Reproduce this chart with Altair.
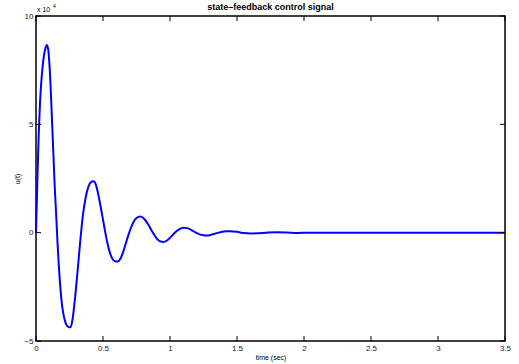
import altair as alt
import pandas as pd

# control effort u(t), in units of 1e4
t_sec = [0, 0.01, 0.02, 0.03, 0.04, 0.05, 0.06, 0.07, 0.08, 0.09, 0.10,
         0.11, 0.12, 0.13, 0.14, 0.15, 0.16, 0.17, 0.18, 0.19, 0.20, 0.22,
         0.24, 0.255, 0.27, 0.29, 0.31, 0.33, 0.35, 0.37, 0.39, 0.41, 0.43,
         0.45, 0.47, 0.49, 0.51, 0.53, 0.55, 0.57, 0.59, 0.61, 0.63, 0.65,
         0.67, 0.69, 0.71, 0.73, 0.75, 0.78, 0.81, 0.84, 0.87, 0.90, 0.93,
         0.95, 0.98, 1.01, 1.04, 1.07, 1.10, 1.13, 1.16, 1.19, 1.22, 1.25,
         1.28, 1.31, 1.35, 1.39, 1.42, 1.45, 1.50, 1.55, 1.60, 1.65, 1.72,
         1.80, 1.87, 1.95, 2.05, 2.5, 3.0, 3.5]
u_1e4 = [0, 2.4, 4.5, 6.0, 7.0, 7.7, 8.2, 8.5, 8.66, 8.5, 7.8,
         6.6, 5.1, 3.6, 2.1, 0.9, -0.4, -1.5, -2.4, -3.1, -3.6, -4.15,
         -4.35, -4.37, -4.1, -3.1, -1.8, -0.4, 0.8, 1.6, 2.1, 2.33, 2.37,
         2.15, 1.6, 0.95, 0.25, -0.4, -0.9, -1.2, -1.32, -1.33, -1.2, -0.9,
         -0.5, -0.1, 0.25, 0.52, 0.68, 0.75, 0.62, 0.35, 0.02, -0.26, -0.41,
         -0.43, -0.35, -0.17, 0.02, 0.16, 0.23, 0.21, 0.12, 0.01, -0.08, -0.12,
         -0.13, -0.09, -0.02, 0.04, 0.065, 0.07, 0.04, -0.02, -0.04, -0.03, 0.0,
         0.02, 0.01, -0.01, 0, 0, 0, 0]

x_ticks = [0, 0.5, 1, 1.5, 2, 2.5, 3, 3.5]
y_ticks = [-5, 0, 5, 10]

W, H = 469, 325
TICK = 5
FONT = "Liberation Sans"

df = pd.DataFrame({"t": t_sec, "u": u_1e4})
xt = pd.DataFrame({"t": x_ticks})
yt = pd.DataFrame({"u": y_ticks})

xscale = alt.Scale(domain=[0, 3.5], nice=False, zero=False)
yscale = alt.Scale(domain=[-5, 10], nice=False, zero=False)

common = dict(ticks=False, domain=False, grid=False, labelFlush=False,
              labelOverlap=False, labelFont=FONT, labelFontSize=8,
              labelColor="#222222", titleFont=FONT, titleFontSize=7,
              titleFontWeight="normal", titleColor="black")
xaxis = alt.Axis(values=x_ticks, format="~f", title="time (sec)",
                 labelPadding=3, titlePadding=1, **common)
yaxis = alt.Axis(values=y_ticks, format="~f", title="u(t)",
                 labelPadding=3, titlePadding=3, **common)

X = alt.X("t:Q", scale=xscale, axis=xaxis)
Y = alt.Y("u:Q", scale=yscale, axis=yaxis)

line = alt.Chart(df).mark_line(
    color="#0000ff", strokeWidth=2, interpolate="monotone"
).encode(x=X, y=Y)

# inward tick marks on all four sides of the box
x_bottom = alt.Chart(xt).mark_rule(color="black", strokeWidth=1).encode(
    x=X, y=alt.value(H), y2=alt.value(H - TICK))
x_top = alt.Chart(xt).mark_rule(color="black", strokeWidth=1).encode(
    x=X, y=alt.value(0), y2=alt.value(TICK))
y_left = alt.Chart(yt).mark_rule(color="black", strokeWidth=1).encode(
    y=Y, x=alt.value(0), x2=alt.value(TICK))
y_right = alt.Chart(yt).mark_rule(color="black", strokeWidth=1).encode(
    y=Y, x=alt.value(W - TICK), x2=alt.value(W))

# axis multiplier shown above the y axis
mult = alt.Chart(pd.DataFrame({"s": ["x 10"]})).mark_text(
    font=FONT, fontSize=7, align="left", baseline="middle", color="black"
).encode(text="s:N", x=alt.value(1), y=alt.value(-6))
mult_exp = alt.Chart(pd.DataFrame({"s": ["4"]})).mark_text(
    font=FONT, fontSize=5, align="left", baseline="middle", color="black"
).encode(text="s:N", x=alt.value(17), y=alt.value(-10))

# chart title
title = alt.Chart(pd.DataFrame({"s": ["state\u2013feedback control signal"]})).mark_text(
    font=FONT, fontSize=9, fontWeight="bold", align="center", baseline="middle",
    color="black"
).encode(text="s:N", x=alt.value(W / 2), y=alt.value(-9))

chart = alt.layer(line, x_bottom, x_top, y_left, y_right, mult, mult_exp, title).properties(
    width=W, height=H,
    view=alt.ViewBackground(stroke="black", strokeWidth=1.5),
    autosize=alt.AutoSizeParams(type="none"),
    padding={"left": 36, "top": 16, "right": 14, "bottom": 23},
).configure(background="white")

chart.save("out.html", embed_options={"renderer": "svg", "actions": False})
